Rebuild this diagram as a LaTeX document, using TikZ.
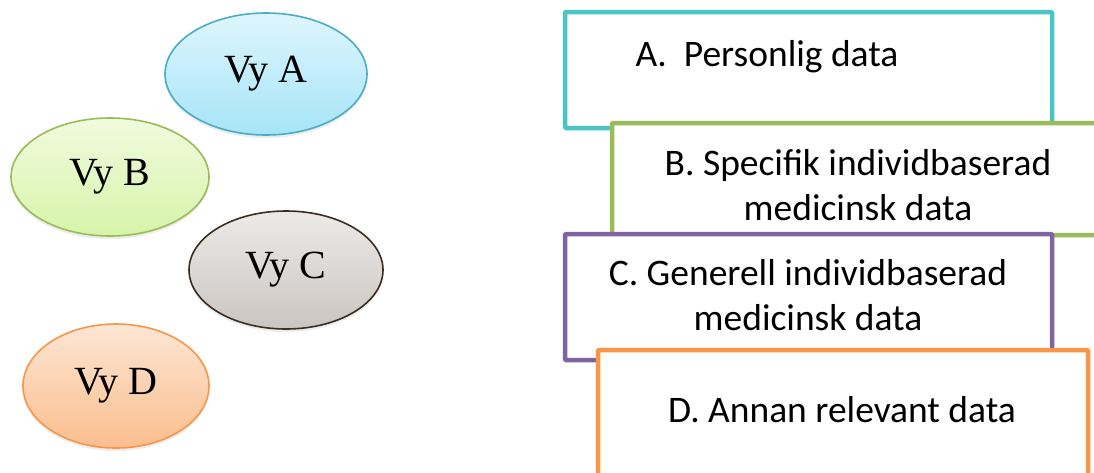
\documentclass[tikz,border=0pt]{standalone}
\usepackage{fontspec}
\setmainfont{Liberation Serif}
\newfontfamily\boxfont{Carlito}
\usetikzlibrary{shadows,shapes.geometric}
\definecolor{aline}{HTML}{4BC4C6}
\definecolor{bline}{HTML}{9BBB59}
\definecolor{cline}{HTML}{8064A2}
\definecolor{dline}{HTML}{F79646}
\definecolor{ea}{HTML}{4BACC6}
\definecolor{eb}{HTML}{9BBB59}
\definecolor{ec}{HTML}{3A2E24}
\definecolor{ed}{HTML}{F79646}
\tikzset{
  vy/.style={ellipse, draw=#1, line width=1.6pt, inner sep=0pt,
    font=\fontsize{40}{40}\selectfont,
    drop shadow={opacity=0.15, shadow xshift=0pt, shadow yshift=-3pt}},
  databox/.style={draw=#1, fill=white, line width=4.5pt, rounded corners=1pt, inner sep=0pt},
  boxtext/.style={font=\boxfont\fontsize{37.5}{45}\selectfont, align=center, inner sep=0pt}
}
\begin{document}
\begin{tikzpicture}[x=1pt,y=-1pt]
\useasboundingbox (0,0) rectangle (1094,472);
\clip (0,0) rectangle (1094,472);
% ellipses
\node[vy=ea, top color={rgb,255:red,222;green,246;blue,253}, bottom color={rgb,255:red,167;green,228;blue,248},
  minimum width=202pt, minimum height=122pt] (vya) at (266,74) {Vy A};
\node[vy=eb, top color={rgb,255:red,240;green,251;blue,222}, bottom color={rgb,255:red,214;green,244;blue,170},
  minimum width=198pt, minimum height=118pt] (vyb) at (110,177) {Vy B};
\node[vy=ec, top color={rgb,255:red,236;green,234;blue,232}, bottom color={rgb,255:red,202;green,197;blue,193},
  minimum width=194pt, minimum height=118pt] (vyc) at (286,270) {Vy C};
\node[vy=ed, top color={rgb,255:red,253;green,230;blue,212}, bottom color={rgb,255:red,250;green,190;blue,142},
  minimum width=186pt, minimum height=124pt] (vyd) at (116,386) {Vy D};
% boxes
\node[databox=aline, minimum width=487pt, minimum height=116pt] (boxa) at (808.5,70) {};
\node[boxtext] (ta) at (767,57) {A.\ \ Personlig data};
\node[databox=bline, minimum width=500pt, minimum height=112pt] (boxb) at (862,179) {};
\node[boxtext] (tb) at (858,185) {B. Specifik individbaserad\\medicinsk data};
\node[databox=cline, minimum width=487pt, minimum height=126pt] (boxc) at (808.5,297) {};
\node[boxtext] (tc) at (808,295) {C. Generell individbaserad\\medicinsk data};
\node[databox=dline, minimum width=490pt, minimum height=160pt] (boxd) at (843,430) {};
\node[boxtext] (td) at (842,410) {D. Annan relevant data};
\end{tikzpicture}
\end{document}
